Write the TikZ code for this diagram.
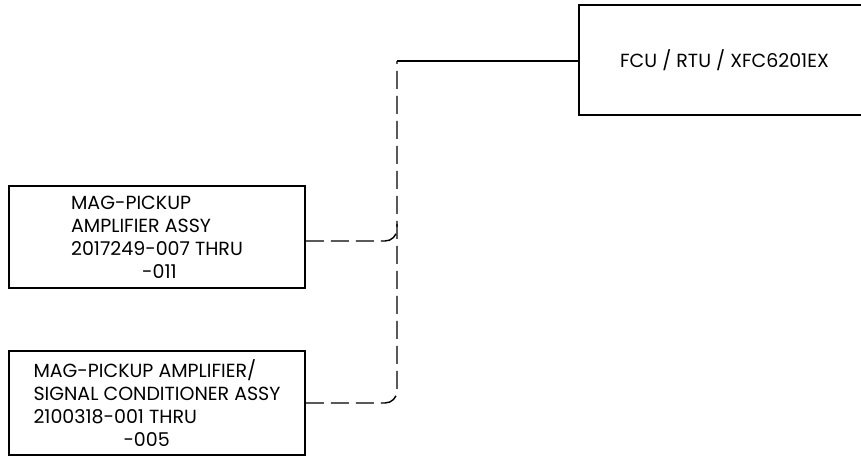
\documentclass[tikz,border=0pt]{standalone}
\usepackage{fontspec}
\setmainfont{Poppins}
\usepackage{tikz}
\usetikzlibrary{calc}

\tikzset{
  unitbox/.style={draw, line width=1.6pt, inner sep=0pt, align=left,
    font=\fontsize{19}{23}\selectfont},
  wire/.style={line width=1.4pt},
  dashwire/.style={wire, dash pattern=on 18pt off 7pt, rounded corners=12pt}
}

\begin{document}
\begin{tikzpicture}[x=1pt, y=-1pt]
  \clip (0,0) rectangle (861,456);
  \useasboundingbox (0,0) rectangle (861,456);
  % boxes
  \node[unitbox, minimum width=291pt, minimum height=110pt, align=center] (fcu) at (724.5,60) {FCU / RTU / XFC6201EX};
  \node[unitbox, minimum width=296pt, minimum height=102pt] (amp) at (157,237)
    {MAG-PICKUP\\AMPLIFIER ASSY\\2017249-007 THRU\\\hspace*{71pt}-011};
  \node[unitbox, minimum width=296pt, minimum height=104pt] (cond) at (157,403)
    {MAG-PICKUP AMPLIFIER/\\SIGNAL CONDITIONER ASSY\\2100318-001 THRU\\\hspace*{90pt}-005};
  % wiring
  \coordinate (top) at (397,61);
  \coordinate (tap) at (397,224);
  \draw[wire] (fcu.west |- top) -- (top);
  \draw[dashwire] (cond.east) -| (top);
  \draw[dashwire] ([yshift=-4pt]amp.east) -| (tap);
\end{tikzpicture}
\end{document}
